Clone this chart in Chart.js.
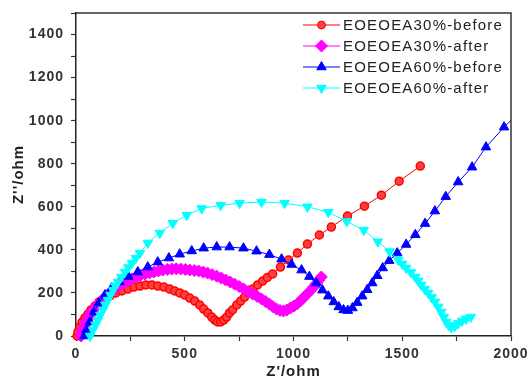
<!DOCTYPE html>
<html>
<head>
<meta charset="utf-8">
<script src="https://cdn.jsdelivr.net/npm/chart.js@4/dist/chart.umd.min.js"></script>
<style>
  html, body { margin: 0; padding: 0; background: #fff; }
  canvas { display: block; }
</style>
</head>
<body>
<canvas id="nyquist" width="528" height="381"></canvas>
<script>
// impedance data, [Z', Z''] in ohm
const seriesNames = ["EOEOEA30%-before", "EOEOEA30%-after", "EOEOEA60%-before", "EOEOEA60%-after"];

const before30 = [
  [5, 0], [9, 19], [18, 42], [28, 65], [41, 84], [55, 102], [69, 121], [87, 139], [106, 158],
  [128, 172], [156, 186], [183, 200], [211, 209], [239, 218], [266, 227], [294, 232], [321, 237],
  [349, 237], [376, 232], [404, 227], [431, 218], [454, 209], [477, 200], [500, 190], [523, 176],
  [546, 162], [569, 144], [587, 125], [606, 107], [624, 88], [638, 74], [651, 65], [665, 65],
  [679, 74], [693, 88], [706, 107], [720, 121], [739, 144], [757, 162], [775, 181], [794, 200],
  [812, 218], [835, 237], [858, 255], [880, 272], [904, 288], [940, 320], [977, 353], [1018, 385],
  [1064, 427], [1119, 469], [1174, 506], [1248, 557], [1326, 603], [1404, 654], [1486, 719], [1583, 789]
];

const after30 = [
  [23, 0], [28, 14], [32, 28], [39, 46], [46, 65], [55, 81], [64, 97], [75, 114], [87, 130],
  [98, 144], [110, 158], [124, 172], [138, 186], [154, 200], [170, 213], [186, 225], [202, 237],
  [220, 246], [239, 255], [257, 265], [275, 274], [296, 281], [317, 288], [338, 293], [358, 297],
  [379, 302], [399, 306], [420, 309], [440, 311], [461, 312], [482, 311], [503, 309], [523, 306],
  [544, 304], [564, 302], [585, 297], [605, 292], [626, 285], [647, 278], [668, 269], [688, 260],
  [709, 251], [729, 241], [750, 230], [771, 218], [792, 207], [812, 195], [833, 184], [853, 172],
  [872, 160], [890, 148], [906, 136], [922, 125], [938, 119], [954, 116], [970, 121], [986, 130],
  [1002, 139], [1018, 150], [1032, 163], [1046, 178], [1062, 194], [1078, 210], [1092, 227],
  [1105, 244], [1117, 259], [1128, 274]
];

const before60 = [
  [38, 0], [48, 28], [64, 65], [83, 111], [105, 153], [133, 190], [165, 223], [200, 251],
  [241, 276], [284, 297], [330, 320], [376, 343], [427, 362], [477, 380], [532, 395], [587, 408],
  [647, 413], [706, 413], [770, 408], [830, 394], [889, 378], [945, 357], [991, 332], [1037, 306],
  [1073, 276], [1105, 246], [1133, 213], [1160, 185], [1185, 158], [1208, 135], [1230, 121],
  [1250, 118], [1271, 130], [1293, 155], [1316, 185], [1339, 215], [1362, 246], [1385, 280],
  [1410, 316], [1440, 350], [1477, 385], [1518, 425], [1560, 470], [1605, 522], [1650, 580],
  [1700, 647], [1757, 715], [1821, 784], [1885, 877], [1968, 970], [2040, 1040]
];

const after60 = [
  [65, 0], [78, 28], [90, 52], [101, 74], [112, 98], [124, 121], [135, 145], [147, 167],
  [158, 190], [170, 213], [181, 232], [193, 251], [209, 274], [225, 297], [241, 318], [257, 339],
  [275, 362], [294, 385], [330, 432], [385, 478], [445, 524], [509, 561], [578, 592], [665, 607],
  [752, 617], [853, 622], [959, 617], [1064, 600], [1160, 575], [1245, 532], [1323, 492],
  [1388, 438], [1442, 392], [1482, 353], [1500, 335], [1518, 316], [1540, 295], [1560, 274],
  [1574, 256], [1587, 237], [1603, 218], [1619, 200], [1635, 179], [1651, 158], [1665, 135],
  [1679, 111], [1691, 88], [1702, 65], [1714, 50], [1725, 40], [1740, 44], [1757, 58],
  [1775, 70], [1794, 80], [1815, 88]
];

const xTicksLabelled = [0, 500, 1000, 1500, 2000];
const yTicksLabelled = [0, 200, 400, 600, 800, 1000, 1200, 1400];

const toPoints = arr => arr.map(([x, y]) => ({ x, y }));

const axisFont = { family: "Arial, 'Liberation Sans', sans-serif", size: 14, weight: "bold" };
const titleFont = { family: "Arial, 'Liberation Sans', sans-serif", size: 15, weight: "bold" };

function series(label, data, color, style, opts) {
  return Object.assign({
    label: label,
    data: toPoints(data),
    borderColor: color,
    backgroundColor: color,
    borderWidth: 1,
    pointStyle: style,
    pointRadius: 5.5,
    pointBackgroundColor: color,
    pointBorderColor: color,
    pointBorderWidth: 1,
    showLine: true,
    tension: 0,
    clip: { left: 10, top: 0, right: 0, bottom: 10 }
  }, opts || {});
}

// spread glyphs a little, like the plotting program does
const spacing = {
  id: "spacing",
  beforeDraw(chart) { chart.ctx.letterSpacing = "1px"; }
};

// closing top and right sides of the frame
const frame = {
  id: "frame",
  afterDatasetsDraw(chart) {
    const { ctx, chartArea: a } = chart;
    ctx.save();
    ctx.strokeStyle = "#333";
    ctx.lineWidth = 1.5;
    ctx.beginPath();
    ctx.moveTo(a.left, a.top);
    ctx.lineTo(a.right, a.top);
    ctx.lineTo(a.right, a.bottom);
    ctx.stroke();
    ctx.restore();
  }
};

// line-and-symbol legend in the upper right corner
const keyBox = {
  id: "keyBox",
  afterDraw(chart) {
    const ctx = chart.ctx;
    const a = chart.chartArea;
    const x0 = a.right - 208, x1 = a.right - 171, xm = (x0 + x1) / 2;
    ctx.save();
    chart.data.datasets.forEach((ds, i) => {
      const y = a.top + 12 + i * 21;
      ctx.strokeStyle = ds.borderColor;
      ctx.lineWidth = 1;
      ctx.beginPath();
      ctx.moveTo(x0, y);
      ctx.lineTo(x1, y);
      ctx.stroke();
      ctx.fillStyle = ds.pointBackgroundColor;
      ctx.strokeStyle = ds.pointBorderColor;
      ctx.lineWidth = 1;
      Chart.helpers.drawPoint(ctx, {
        pointStyle: ds.pointStyle,
        rotation: ds.pointRotation || 0,
        radius: ds.pointRadius,
        borderWidth: 1
      }, xm, y);
      ctx.fillStyle = "#222";
      ctx.font = "15px Arial, 'Liberation Sans', sans-serif";
      ctx.letterSpacing = "1.2px";
      ctx.textBaseline = "middle";
      ctx.textAlign = "left";
      ctx.fillText(ds.label, x1 + 3, y + 1);
    });
    ctx.restore();
  }
};

new Chart(document.getElementById("nyquist"), {
  type: "scatter",
  data: {
    datasets: [
      series(seriesNames[0], before30, "#ff0000", "circle",
        { pointRadius: 4, pointBackgroundColor: "#ff4040", pointBorderColor: "#ff0000", pointBorderWidth: 1.5, order: 4 }),
      series(seriesNames[1], after30, "#ff00ff", "rectRot", { pointRadius: 6, order: 3 }),
      series(seriesNames[2], before60, "#0000ff", "triangle", { order: 2 }),
      series(seriesNames[3], after60, "#00ffff", "triangle", { pointRotation: 180, order: 1 })
    ]
  },
  options: {
    responsive: false,
    animation: false,
    events: [],
    layout: { padding: { left: 10, top: 13, right: 17, bottom: 0 } },
    plugins: {
      legend: { display: false },
      tooltip: { enabled: false }
    },
    scales: {
      x: {
        type: "linear",
        min: 0,
        max: 2000,
        afterFit(scale) {
          scale.height = 45;
          scale.paddingLeft = 0;
          scale.paddingRight = 0;
        },
        ticks: {
          stepSize: 250,
          autoSkip: false,
          maxRotation: 0,
          padding: 5,
          color: "#333",
          font: axisFont,
          callback: v => xTicksLabelled.includes(v) ? String(v) : ""
        },
        grid: { drawOnChartArea: false, tickLength: 5, tickColor: "#333", tickWidth: 1.2 },
        border: { display: true, color: "#222", width: 1.5 },
        title: { display: true, text: "Z'/ohm", color: "#222", font: titleFont, padding: 0 }
      },
      y: {
        type: "linear",
        min: 0,
        max: 1500,
        afterFit(scale) {
          scale.width = 66;
          scale.paddingTop = 0;
          scale.paddingBottom = 0;
        },
        ticks: {
          stepSize: 100,
          autoSkip: false,
          padding: 7,
          color: "#333",
          font: axisFont,
          callback: v => yTicksLabelled.includes(v) ? String(v) : ""
        },
        grid: { drawOnChartArea: false, tickLength: 5, tickColor: "#333", tickWidth: 1.2 },
        border: { display: true, color: "#222", width: 1.5 },
        title: { display: true, text: "Z''/ohm", color: "#222", font: titleFont, padding: 0 }
      }
    }
  },
  plugins: [spacing, frame, keyBox]
});
</script>
</body>
</html>
